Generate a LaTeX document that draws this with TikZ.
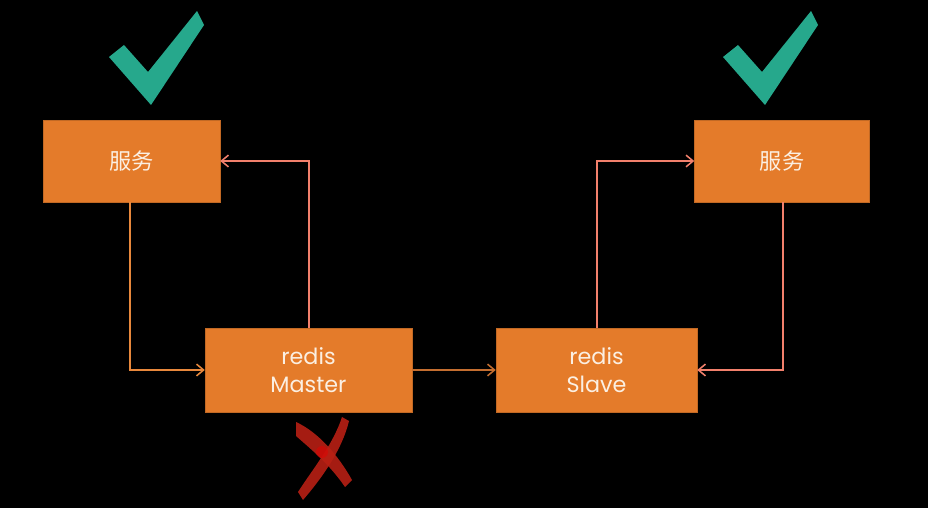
\documentclass[tikz,border=0pt]{standalone}
\usepackage{fontspec}
\setmainfont{Poppins}
\newfontfamily\cjk{Noto Sans CJK SC}
\usetikzlibrary{arrows.meta}
\definecolor{boxor}{HTML}{E47B2A}
\definecolor{txt}{HTML}{FBEFE2}
\definecolor{lnor}{HTML}{E8883C}
\definecolor{lnsal}{HTML}{F2806C}
\definecolor{lnbr}{HTML}{C46E30}
\definecolor{teal}{HTML}{26A88C}
\definecolor{xred}{HTML}{B82014}
\begin{document}
\begin{tikzpicture}[x=0.03cm,y=-0.03cm,
  box/.style={draw=boxor!85!black,line width=0.4pt,fill=boxor,inner sep=0pt,text=txt,align=center},
  cjkfont/.style={font=\cjk\fontsize{19}{22}\selectfont},
  latfont/.style={font=\fontsize{19}{24}\selectfont},
  conn/.style={line width=1.7pt,-{Straight Barb[length=6pt,width=10pt,line width=1.3pt]}}]
\fill[black] (0,0) rectangle (928,508);
\useasboundingbox (0,0) rectangle (928,508);
% boxes
\node[box,minimum width=177*0.03cm,minimum height=82*0.03cm,cjkfont] (s1) at (131.5,161) {服务};
\node[box,minimum width=175*0.03cm,minimum height=82*0.03cm,cjkfont] (s2) at (782,161) {服务};
\node[box,minimum width=207*0.03cm,minimum height=84*0.03cm,latfont] (m) at (308.5,370) {redis\\Master};
\node[box,minimum width=201*0.03cm,minimum height=84*0.03cm,latfont] (sl) at (596.5,370) {redis\\Slave};
% connectors
\draw[conn,lnor] (s1.south -| 130,0) |- (m.west);
\draw[conn,lnsal] (m.north) |- (s1.east);
\draw[conn,lnbr] (m.east) -- (sl.west);
\draw[conn,lnsal] (sl.north) |- (s2.west);
\draw[conn,lnsal] (s2.south -| 783,0) |- (sl.east);
% checkmarks
\foreach \dx in {0,614}{
\fill[teal] ([xshift=\dx*0.03cm]109,57) -- ([xshift=\dx*0.03cm]124,45) -- ([xshift=\dx*0.03cm]148,72) -- ([xshift=\dx*0.03cm]197,11) -- ([xshift=\dx*0.03cm]204,25) -- ([xshift=\dx*0.03cm]151,105) -- cycle;
}
% red X
\fill[xred,opacity=0.9] (296,422) .. controls (318,432) and (338,455) .. (352,480) -- (345,487) .. controls (330,465) and (312,450) .. (296,436) -- cycle;
\fill[xred,opacity=0.9] (342,417) -- (349,421) .. controls (342,450) and (322,478) .. (303,500) -- (298,492) .. controls (312,470) and (333,445) .. cycle;
\fill[red!90!black,opacity=0.5] (322,452) circle (6);
\end{tikzpicture}
\end{document}
